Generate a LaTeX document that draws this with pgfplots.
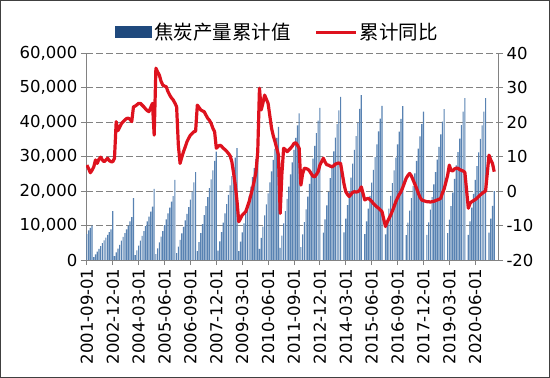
\documentclass[border=0pt]{standalone}
\usepackage{fontspec}
\setmainfont{DejaVu Sans}
\newfontfamily\cjk{Noto Sans CJK SC}
\usepackage{pgfplots}
\usepackage{pgfplotstable}
\pgfplotsset{compat=1.18}
\definecolor{barfill}{RGB}{88,130,178}
\definecolor{navy}{RGB}{31,73,125}
\definecolor{linered}{RGB}{222,18,30}
\definecolor{gridgray}{RGB}{130,130,130}

\pgfplotstableread[row sep=\\]{
x y\\
0 7500\\ 1 8600\\ 2 9300\\ 3 10000\\
4 800\\ 5 1600\\ 6 2400\\ 7 3200\\ 8 4000\\ 9 4900\\ 10 5700\\ 11 6500\\ 12 7300\\ 13 8100\\ 14 8900\\ 15 14200\\
16 1100\\ 17 2200\\ 18 3300\\ 19 4400\\ 20 5600\\ 21 6700\\ 22 7800\\ 23 8900\\ 24 10000\\ 25 11200\\ 26 12400\\ 27 17900\\
28 1400\\ 29 2800\\ 30 4200\\ 31 5600\\ 32 7000\\ 33 8400\\ 34 9800\\ 35 11200\\ 36 12600\\ 37 14000\\ 38 15500\\ 39 20600\\
40 1700\\ 41 3400\\ 42 5100\\ 43 6800\\ 44 8400\\ 45 10100\\ 46 11800\\ 47 13500\\ 48 15200\\ 49 16900\\ 50 18500\\ 51 23200\\
52 2000\\ 53 3900\\ 54 5800\\ 55 7700\\ 56 9600\\ 57 11500\\ 58 13400\\ 59 15300\\ 60 17500\\ 61 19800\\ 62 22500\\ 63 25500\\
64 2600\\ 65 5200\\ 66 7800\\ 67 10400\\ 68 13000\\ 69 15600\\ 70 18200\\ 71 20800\\ 72 23400\\ 73 26000\\ 74 28700\\ 75 31400\\
76 2700\\ 77 5400\\ 78 8100\\ 79 10800\\ 80 13500\\ 81 16200\\ 82 18900\\ 83 21600\\ 84 24300\\ 85 27000\\ 86 29700\\ 87 32400\\
88 2600\\ 89 5300\\ 90 8000\\ 91 10600\\ 92 13300\\ 93 16000\\ 94 18600\\ 95 21300\\ 96 24000\\ 97 26600\\ 98 29300\\ 99 32000\\
100 3200\\ 101 6400\\ 102 9700\\ 103 12900\\ 104 16100\\ 105 19300\\ 106 22500\\ 107 25700\\ 108 29000\\ 109 32200\\ 110 35400\\ 111 38600\\
112 3500\\ 113 7100\\ 114 10600\\ 115 14200\\ 116 17700\\ 117 21300\\ 118 24800\\ 119 28300\\ 120 31900\\ 121 35400\\ 122 39000\\ 123 42500\\
124 3700\\ 125 7400\\ 126 11000\\ 127 14700\\ 128 18400\\ 129 22100\\ 130 25700\\ 131 29400\\ 132 33100\\ 133 36800\\ 134 40400\\ 135 44100\\
137 7900\\ 138 11800\\ 139 15800\\ 140 19700\\ 141 23700\\ 142 27600\\ 143 31500\\ 144 35500\\ 145 39400\\ 146 43400\\ 147 47300\\
149 8000\\ 150 12000\\ 151 15900\\ 152 19900\\ 153 23900\\ 154 27900\\ 155 31900\\ 156 35900\\ 157 39800\\ 158 43800\\ 159 47800\\
161 7500\\ 162 11200\\ 163 14900\\ 164 18600\\ 165 22400\\ 166 26100\\ 167 29800\\ 168 33500\\ 169 37300\\ 170 41000\\ 171 44700\\
173 7400\\ 174 11200\\ 175 14900\\ 176 18600\\ 177 22300\\ 178 26000\\ 179 29700\\ 180 33500\\ 181 37200\\ 182 40900\\ 183 44600\\
185 7200\\ 186 10800\\ 187 14300\\ 188 17900\\ 189 21500\\ 190 25100\\ 191 28700\\ 192 32300\\ 193 35800\\ 194 39400\\ 195 43000\\
197 7300\\ 198 10900\\ 199 14600\\ 200 18200\\ 201 21900\\ 202 25500\\ 203 29100\\ 204 32800\\ 205 36400\\ 206 40100\\ 207 43700\\
209 7800\\ 210 11700\\ 211 15600\\ 212 19500\\ 213 23500\\ 214 27400\\ 215 31300\\ 216 35200\\ 217 39100\\ 218 43000\\ 219 46900\\
221 7300\\ 222 11200\\ 223 15200\\ 224 19200\\ 225 23200\\ 226 27200\\ 227 31200\\ 228 35100\\ 229 39000\\ 230 43000\\ 231 46900\\
233 7900\\ 234 12000\\ 235 15700\\ 236 20000\\
}\bars

\pgfplotstableread[row sep=\\]{
x y\\
0 7.5\\ 1 6.5\\ 2 5.3\\ 3 6.0\\ 4 7.0\\ 5 9.0\\ 6 8.0\\ 7 9.2\\ 8 9.8\\ 9 9.0\\ 10 8.5\\ 11 9.0\\ 12 9.5\\ 13 8.8\\ 14 8.5\\ 15 8.5\\
16 9.5\\ 17 20.1\\ 18 17.5\\ 19 18.5\\ 20 19.5\\ 21 20.1\\ 22 20.6\\ 23 21.0\\ 24 21.1\\ 25 20.8\\ 26 20.1\\ 27 24.4\\
28 24.6\\ 29 25.0\\ 30 25.4\\ 31 25.4\\ 32 24.9\\ 33 24.4\\ 34 23.8\\ 35 23.3\\ 36 23.0\\ 37 24.2\\ 38 25.4\\ 39 16.2\\
40 35.6\\ 41 34.5\\ 42 33.6\\ 43 31.8\\ 44 30.7\\ 45 30.4\\ 46 30.2\\ 47 28.8\\ 48 27.8\\ 49 27.0\\ 50 26.4\\ 51 25.5\\
52 24.4\\ 53 13.3\\ 54 8.0\\ 55 9.8\\ 56 11.4\\ 57 12.8\\ 58 14.3\\ 59 15.3\\ 60 16.2\\ 61 16.7\\ 62 17.2\\ 63 17.3\\
64 24.9\\ 65 24.2\\ 66 23.5\\ 67 23.2\\ 68 23.0\\ 69 22.0\\ 70 21.1\\ 71 20.5\\ 72 19.6\\ 73 18.2\\ 74 17.2\\ 75 12.4\\
76 12.9\\ 77 13.3\\ 78 13.0\\ 79 12.4\\ 80 12.0\\ 81 11.5\\ 82 10.9\\ 83 10.2\\ 84 8.5\\ 85 5.2\\ 86 1.7\\ 87 -3.0\\
88 -8.9\\ 89 -8.0\\ 90 -7.0\\ 91 -6.5\\ 92 -6.0\\ 93 -4.6\\ 94 -3.1\\ 95 -1.2\\ 96 0.8\\ 97 3.0\\ 98 5.6\\ 99 11.4\\
100 29.8\\ 101 23.5\\ 102 25.5\\ 103 27.8\\ 104 26.6\\ 105 25.4\\ 106 21.8\\ 107 18.2\\ 108 16.0\\ 109 14.3\\ 110 12.4\\ 111 10.4\\
112 -6.5\\ 113 5.0\\ 114 12.4\\ 115 12.0\\ 116 11.4\\ 117 11.9\\ 118 12.4\\ 119 13.0\\ 120 13.8\\ 121 14.0\\ 122 13.3\\ 123 12.4\\
124 1.7\\ 125 5.0\\ 126 6.6\\ 127 6.5\\ 128 6.3\\ 129 5.8\\ 130 5.0\\ 131 4.3\\ 132 4.1\\ 133 4.8\\ 134 5.6\\ 135 7.5\\
137 9.5\\ 138 8.4\\ 139 7.6\\ 140 7.5\\ 141 7.2\\ 142 7.0\\ 143 7.3\\ 144 7.8\\ 145 8.0\\ 146 8.1\\ 147 8.0\\
149 2.0\\ 150 -0.2\\ 151 -1.0\\ 152 -1.6\\ 153 -1.0\\ 154 -0.4\\ 155 -0.2\\ 156 -0.3\\ 157 -0.2\\ 158 0.2\\ 159 1.2\\
161 -2.6\\ 162 -2.3\\ 163 -2.1\\ 164 -2.5\\ 165 -3.0\\ 166 -3.6\\ 167 -4.1\\ 168 -4.6\\ 169 -5.0\\ 170 -5.5\\ 171 -6.0\\
173 -10.3\\ 174 -9.0\\ 175 -8.0\\ 176 -7.0\\ 177 -5.8\\ 178 -4.5\\ 179 -3.1\\ 180 -2.0\\ 181 -1.0\\ 182 -0.2\\ 183 1.0\\
185 3.7\\ 186 4.5\\ 187 5.1\\ 188 4.4\\ 189 3.2\\ 190 2.0\\ 191 0.8\\ 192 -0.6\\ 193 -1.8\\ 194 -2.6\\ 195 -2.8\\
197 -3.1\\ 198 -3.1\\ 199 -3.2\\ 200 -3.1\\ 201 -3.0\\ 202 -2.8\\ 203 -2.6\\ 204 -2.4\\ 205 -2.1\\ 206 -0.6\\ 207 0.6\\
209 4.5\\ 210 7.5\\ 211 6.0\\ 212 5.8\\ 213 6.4\\ 214 6.6\\ 215 6.6\\ 216 6.2\\ 217 6.0\\ 218 5.8\\ 219 5.4\\
221 -5.0\\ 222 -3.6\\ 223 -3.1\\ 224 -2.8\\ 225 -2.5\\ 226 -2.1\\ 227 -1.6\\ 228 -1.1\\ 229 -0.7\\ 230 -0.3\\ 231 0.0\\
233 10.4\\ 234 9.0\\ 235 8.0\\ 236 5.6\\
}\yoy

\begin{document}
\begin{tikzpicture}
\draw[black!75, line width=1bp] (0.5bp,0.5bp) rectangle (549.5bp,377.5bp);
\pgfplotsset{
  common/.style={
    at={(86bp,118bp)}, anchor=south west,
    scale only axis, width=412bp, height=207bp,
    xmin=-0.5, xmax=238.2,
    scaled y ticks=false, scaled x ticks=false,
    /pgf/number format/assume math mode=true,
    tick label style={font=\fontsize{16.5bp}{19bp}\selectfont, black},
    axis line style={gridgray, line width=0.8bp},
    tick style={gridgray, line width=0.8bp},
    tick align=outside, major tick length=5bp,
  }
}
\begin{axis}[common,
  ymin=0, ymax=60000,
  axis x line*=bottom, axis y line*=left,
  xtick={0,15,...,225},
  xticklabels={2001-09-01,2002-12-01,2004-03-01,2005-06-01,2006-09-01,2007-12-01,2009-03-01,2010-06-01,2011-09-01,2012-12-01,2014-03-01,2015-06-01,2016-09-01,2017-12-01,2019-03-01,2020-06-01},
  xticklabel style={rotate=90, anchor=east},
  ytick={0,10000,20000,30000,40000,50000,60000},
  yticklabels={0,{10,000},{20,000},{30,000},{40,000},{50,000},{60,000}},
  ymajorgrids,
  grid style={gridgray, line width=0.8bp, dash pattern=on 6.5bp off 3.5bp},
  legend style={at={(0.465,1.101)}, anchor=center, draw=none, fill=none,
    legend columns=2, font=\cjk\fontsize{19.5bp}{22bp}\selectfont,
    /tikz/every even column/.append style={column sep=22bp}},
]
\addplot[ybar, bar width=0.66, fill=barfill, draw=none,
  legend image code/.code={\fill[navy] (0bp,-5.8bp) rectangle (37bp,5.8bp);}]
  table[x=x, y=y]{\bars};
\addlegendentry{焦炭产量累计值}
\addlegendimage{legend image code/.code={\draw[linered, line width=3bp] (0bp,0bp) -- (40bp,0bp);}}
\addlegendentry{累计同比}
\end{axis}
\begin{axis}[common,
  ymin=-20, ymax=40,
  axis x line=none, axis y line*=right,
  ytick={-20,-10,0,10,20,30,40},
  yticklabels={-20,-10,0,10,20,30,40},
  yticklabel style={anchor=west},
]
\addplot[linered, line width=3.2bp, line join=round, no marks] table[x=x, y=y]{\yoy};
\end{axis}
\end{tikzpicture}
\end{document}
